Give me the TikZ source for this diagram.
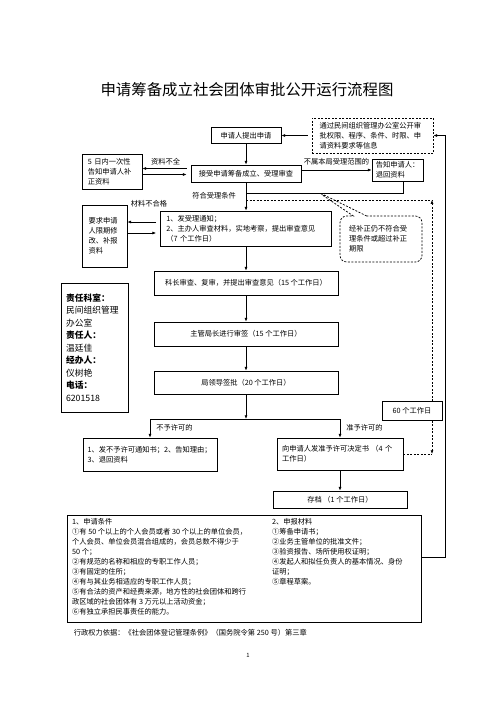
\documentclass[tikz,border=0pt]{standalone}
\usepackage{fontspec}
\setmainfont{Noto Sans CJK SC}
\usetikzlibrary{arrows.meta,shapes.callouts}

\tikzset{
  txt/.style={font=\fontsize{8.7}{12}\selectfont},
  box/.style={txt,draw,line width=0.9pt,inner sep=0pt},
  dbox/.style={box,dash pattern=on 2.4pt off 1.8pt},
  line/.style={line width=0.8pt},
  dline/.style={line width=0.8pt,dash pattern=on 2.4pt off 1.8pt},
  arr/.style={line,-{Latex[length=4.5pt,width=3.6pt]}},
  darr/.style={dline,-{Latex[length=4.5pt,width=3.6pt]}}
}

\begin{document}
\begin{tikzpicture}[x=1.2pt,y=-1.2pt]
  \useasboundingbox[fill=white] (0,0) rectangle (496,702);
  \node[font=\fontsize{18.5}{20}\selectfont] (title) at (247,90) {申请筹备成立社会团体审批公开运行流程图};

  \node[box,minimum width=84pt,minimum height=19.2pt] (apply) at (246,135.5) {申请人提出申请};
  \node[dbox,align=left,text width=127.2pt,inner xsep=9pt,minimum height=42pt] (info) at (372.5,135.5)
    {通过民间组织管理办公室公开审\\批权限、程序、条件、时限、申\\请资料要求等信息};
  \node[box,minimum width=132pt,minimum height=20.4pt] (accept) at (246,173.5) {接受申请筹备成立、受理审查};
  \node[box,align=left,text width=58pt,inner xsep=7pt,minimum height=42pt] (fiveday) at (112,171.5)
    {5 日内一次性\\告知申请人补\\正资料};
  \node[box,align=left,text width=52.2pt,inner xsep=4.5pt,minimum height=26.4pt] (notify) at (397.5,170)
    {告知申请人：\\退回资料};
  \node[box,align=left,text width=191.2pt,inner xsep=7pt,minimum height=42pt] (handle) at (246,228.5)
    {1、发受理通知；\\2、主办人审查材料，实地考察，提出审查意见\\（7 个工作日）};
  \node[box,align=left,text width=38pt,inner xsep=8pt,minimum height=74.4pt] (revise) at (104.5,236)
    {要求申请\\人限期修\\改、补报\\资料};
  \node[dbox,rectangle callout,rounded corners=8pt,align=left,text width=76.4pt,inner xsep=11pt,
    minimum height=55.2pt,callout absolute pointer={(318,192)},callout pointer width=16pt] (bubble) at (381,239)
    {经补正仍不符合受\\理条件或超过补正\\期限};
  \node[box,minimum width=220.8pt,minimum height=28.8pt] (chief) at (246,283) {科长审查、复审，并提出审查意见（15 个工作日）};
  \node[box,minimum width=220.8pt,minimum height=28.8pt] (director) at (246,334) {主管局长进行审签（15 个工作日）};
  \node[box,minimum width=220.8pt,minimum height=27.6pt] (leader) at (246,382.5) {局领导签批（20 个工作日）};
  \node[box,font=\fontsize{10.5}{15}\selectfont,align=left,text width=68.4pt,inner xsep=6pt,minimum height=154.8pt] (resp) at (94.5,347.5)
    {\textbf{责任科室：}\\民间组织管理\\办公室\\\textbf{责任人：}\\温廷佳\\\textbf{经办人：}\\仪树艳\\\textbf{电话：}\\6201518};
  \node[box,minimum width=72pt,minimum height=22.8pt] (days60) at (412,411) {60 个工作日};
  \node[box,align=left,text width=149.8pt,inner xsep=5.5pt,minimum height=39.6pt] (refuse) at (150,454.5)
    {1、发不予许可通知书；2、告知理由；\\3、退回资料};
  \node[box,align=left,text width=139.2pt,inner xsep=6pt,minimum height=38.4pt] (permit) at (340,454)
    {向申请人发准予许可决定书 （4 个\\工作日）};
  \node[box,minimum width=160.8pt,minimum height=20.4pt] (archive) at (340,499.5) {存档 （1 个工作日）};

  \node[box,minimum width=424.8pt,minimum height=128.4pt] (req) at (244,568.5) {};
  \node[txt,anchor=north west,align=left,inner sep=0pt] (cond) at (72,518)
    {1、申请条件\\①有 50 个以上的个人会员或者 30 个以上的单位会员，\\个人会员、单位会员混合组成的，会员总数不得少于\\50 个；\\②有规范的名称和相应的专职工作人员；\\③有固定的住所；\\④有与其业务相适应的专职工作人员；\\⑤有合法的资产和经费来源，地方性的社会团体和跨行\\政区域的社会团体有 3 万元以上活动资金；\\⑥有独立承担民事责任的能力。};
  \node[txt,anchor=north west,align=left,inner sep=0pt] (docs) at (272,518)
    {2、申报材料\\①筹备申请书；\\②业务主管单位的批准文件；\\③验资报告、场所使用权证明；\\④发起人和拟任负责人的基本情况、身份\\证明；\\⑤章程草案。};
  \node[txt,anchor=west] (basis) at (71,633) {行政权力依据：《社会团体登记管理条例》（国务院令第 250 号）第三章};
  \node[font=\fontsize{7}{8}\selectfont] (pageno) at (248,655) {1};

  \node[txt] (lack) at (165.5,162) {资料不全};
  \node[txt] (outside) at (336.5,162) {不属本局受理范围的};
  \node[txt] (meet) at (214,196) {符合受理条件};
  \node[txt] (unfit) at (149,204) {材料不合格};
  \node[txt] (deny) at (174.5,428) {不予许可的};
  \node[txt] (grant) at (364.5,428) {准予许可的};

  \draw[arr,shorten <=4.8pt] (info.west) -- (apply.east);
  \draw[arr] (apply) -- (accept);
  \coordinate (fa) at ([yshift=3.6pt]fiveday.east);
  \coordinate (fb) at ([yshift=-3.6pt]fiveday.east);
  \draw[arr,shorten <=4.8pt] (fa -| accept.west) -- (fa);
  \draw[arr,shorten >=4.8pt] (fb) -- (fb -| accept.west);
  \draw[arr] (accept.east |- notify.west) -- (notify.west);
  \coordinate (join) at (246,193);
  \draw[line] ([xshift=6.6pt]notify.south) |- (join);
  \draw[arr] (accept) -- (handle);
  \coordinate (topc) at (432,200);
  \coordinate (botc) at (432,454);
  \draw[dline] (topc -| accept.south) -- (topc);
  \draw[darr] (topc |- days60.north) -- (topc);
  \draw[darr] (botc |- days60.south) -- (botc);
  \draw[dline] (permit.east) -- (botc);
  \coordinate (ra) at ([yshift=7.8pt]handle.west);
  \coordinate (rb) at ([yshift=-5.4pt]handle.west);
  \draw[arr,shorten <=4.8pt] (ra) -- (ra -| revise.east);
  \draw[arr,shorten >=4.8pt] (rb -| revise.east) -- (rb);
  \draw[arr] (handle) -- (chief);
  \draw[arr] (chief) -- (director);
  \draw[arr] (director) -- (leader);
  \coordinate (split) at (246,419);
  \draw[arr] (leader) -- (split);
  \draw[arr] (split) -| (refuse.north);
  \draw[arr] (split) -| (permit.north);
  \draw[arr] (permit) -- (archive);
  \coordinate (rx) at (445,557);
  \draw[arr] (req.east |- rx) -- (rx) |- (info.east);
\end{tikzpicture}
\end{document}
